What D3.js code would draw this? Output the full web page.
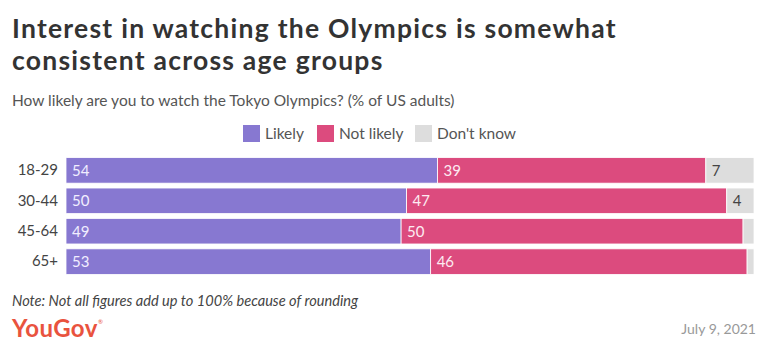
<!DOCTYPE html>
<html><head><meta charset="utf-8">
<script src="https://cdn.jsdelivr.net/npm/d3@7"></script>
<style>
html,body{margin:0;padding:0;background:#fff;}
svg{display:block;font-family:Lato,"Noto Sans",sans-serif;}
</style></head>
<body><svg id="c" width="768" height="354"></svg>
<script>
const categories = ["18-29", "30-44", "45-64", "65+"];
const seriesNames = ["Likely", "Not likely", "Don't know"];
const likely = [54, 50, 49, 53];
const notLikely = [39, 47, 50, 46];
const dontKnow = [7, 4, 1.6, 1];
const colors = ["#8778d1", "#dc4b7e", "#dddddd"];
const labelColors = ["#f1eeff", "#fdebf2", "#444444"];

const svg = d3.select("#c");

svg.append("text").attr("x", 12).attr("y", 38).attr("font-size", 26.5).attr("font-weight", 700).attr("fill", "#333")
  .attr("letter-spacing", 1.25)
  .text("Interest in watching the Olympics is somewhat");
svg.append("text").attr("x", 12).attr("y", 70).attr("font-size", 26.5).attr("font-weight", 700).attr("fill", "#333")
  .attr("letter-spacing", 1.25)
  .text("consistent across age groups");
svg.append("text").attr("x", 12).attr("y", 106).attr("font-size", 15.5).attr("fill", "#555")
  .text("How likely are you to watch the Tokyo Olympics? (% of US adults)");

// legend
const legX = [243, 317, 415];
seriesNames.forEach((n, i) => {
  const g = svg.append("g").attr("transform", `translate(${legX[i]},125)`);
  g.append("rect").attr("width", 17).attr("height", 17).attr("fill", colors[i]);
  g.append("text").attr("x", 22).attr("y", 14).attr("font-size", 15.5).attr("fill", "#555").text(n);
});

const rows = categories.map((c, i) => {
  const vals = [likely[i], notLikely[i], dontKnow[i]];
  const total = d3.sum(vals);
  let acc = 0;
  return { cat: c, segs: vals.map((v, k) => { const s = { k, v, x0: acc / total, x1: (acc + v) / total }; acc += v; return s; }) };
});

const x = d3.scaleLinear().domain([0, 1]).range([66, 754]);
const y = d3.scaleBand().domain(categories).range([157, 275]).paddingInner(0.16).paddingOuter(0.02);

const yAxis = svg.append("g").attr("transform", "translate(62,0)")
  .call(d3.axisLeft(y).tickSize(0).tickPadding(4));
yAxis.select(".domain").remove();
yAxis.selectAll("text").attr("font-size", 15).attr("fill", "#444").attr("font-family", "Lato,'Noto Sans',sans-serif");

const rg = svg.selectAll(".row").data(rows).join("g").attr("class", "row")
  .attr("transform", d => `translate(0,${y(d.cat)})`);
rg.selectAll("rect").data(d => d.segs).join("rect")
  .attr("x", d => x(d.x0)).attr("width", d => x(d.x1) - x(d.x0))
  .attr("y", 0).attr("height", y.bandwidth())
  .attr("fill", d => colors[d.k]).attr("stroke", "#fff").attr("stroke-width", 0.8);
rg.selectAll("text").data(d => d.segs.filter(s => s.v >= 3)).join("text")
  .attr("x", d => x(d.x0) + 6).attr("y", y.bandwidth() / 2 + 5.5)
  .attr("font-size", 15).attr("fill", d => labelColors[d.k])
  .text(d => Math.round(d.v));

svg.append("text").attr("x", 12).attr("y", 306).attr("font-size", 14.6).attr("font-style", "italic").attr("fill", "#444")
  .text("Note: Not all figures add up to 100% because of rounding");
svg.append("text").attr("x", 12).attr("y", 337).attr("font-size", 24).attr("font-weight", 700).attr("fill", "#e9533e")
  .attr("letter-spacing", 0.4).text("YouGov");
svg.append("text").attr("x", 98).attr("y", 324).attr("font-size", 6).attr("fill", "#e9533e").text("®");
svg.append("text").attr("x", 756).attr("y", 334).attr("font-size", 14).attr("fill", "#999").attr("text-anchor", "end")
  .text("July 9, 2021");
</script></body></html>
